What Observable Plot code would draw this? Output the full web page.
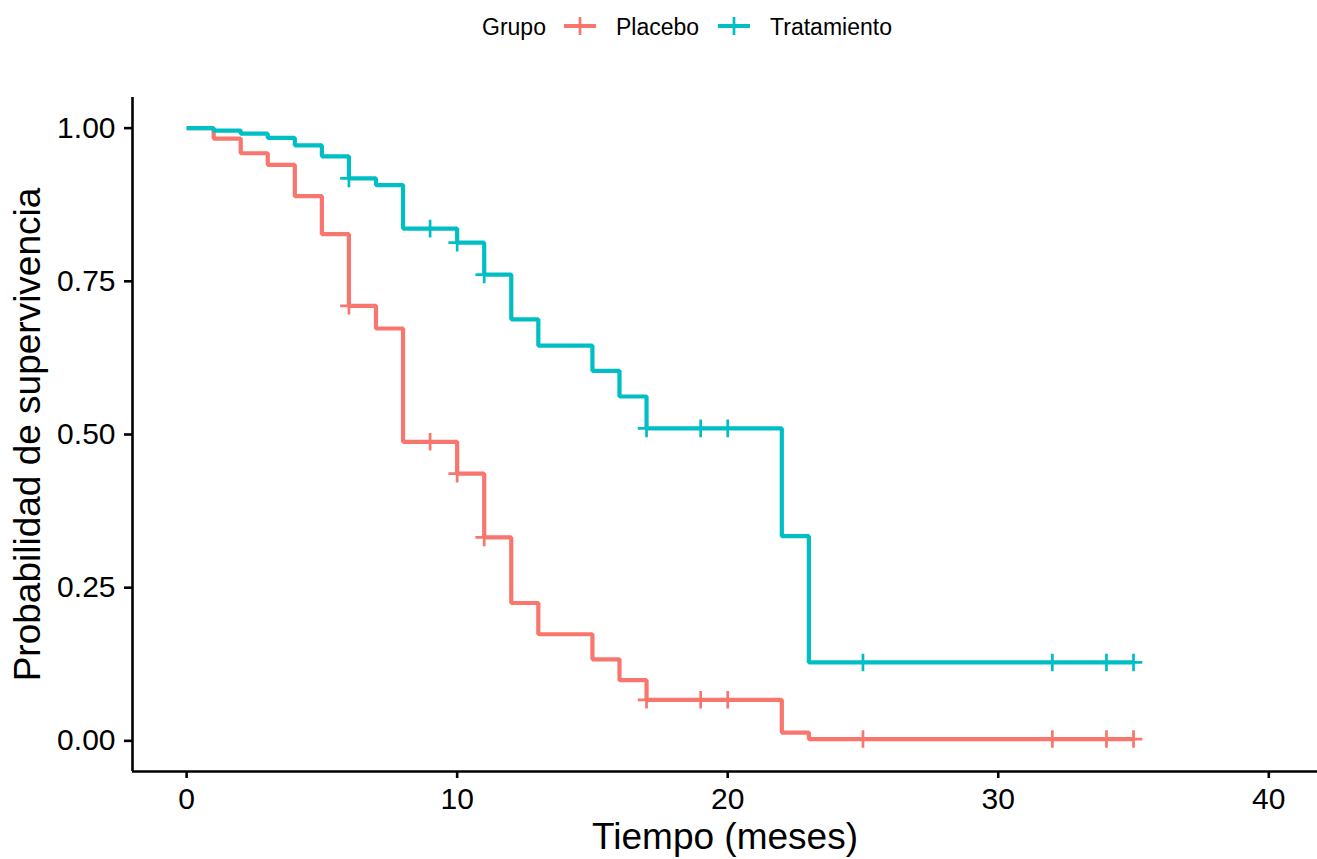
<!DOCTYPE html>
<html>
<head>
<meta charset="utf-8">
<script src="https://cdn.jsdelivr.net/npm/d3@7"></script>
<script src="https://cdn.jsdelivr.net/npm/@observablehq/plot@0.6"></script>
<style>
  body { margin: 0; background: #fff; font-family: "Liberation Sans", Arial, sans-serif; }
  #legend { height: 60px; box-sizing: border-box; padding-bottom: 6px; display: flex; align-items: center; padding-left: 482px; font-size: 23px; color: #000; }
  #legend .key { display: block; }
  #chart svg { display: block; }
</style>
</head>
<body>
<div id="legend"></div>
<div id="chart"></div>
<script>
// ---- data ----
const legendTitle = "Grupo";
const groups = ["Placebo", "Tratamiento"];
const colors = ["#F8766D", "#00BFC4"];

const placeboTimes = [0, 1, 2, 3, 4, 5, 6, 7, 8, 10, 11, 12, 13, 15, 16, 17, 22, 23, 35];
const placeboSurv  = [1.000, 0.983, 0.959, 0.940, 0.889, 0.827, 0.710, 0.673, 0.488, 0.436, 0.332, 0.225, 0.174, 0.133, 0.099, 0.067, 0.0136, 0.003, 0.003];
const placeboCensor = [6, 9, 10, 11, 17, 19, 20, 25, 32, 34, 35];

const tratTimes = [0, 1, 2, 3, 4, 5, 6, 7, 8, 10, 11, 12, 13, 15, 16, 17, 22, 23, 35];
const tratSurv  = [1.000, 0.996, 0.991, 0.984, 0.972, 0.954, 0.918, 0.907, 0.836, 0.813, 0.761, 0.688, 0.645, 0.604, 0.562, 0.510, 0.334, 0.128, 0.128];
const tratCensor = [6, 9, 10, 11, 17, 19, 20, 25, 32, 34, 35];

const xTicks = [0, 10, 20, 30, 40];
const yTicks = [0, 0.25, 0.5, 0.75, 1];
const xLabel = "Tiempo (meses)";
const yLabel = "Probabilidad de supervivencia";

// ---- build tables ----
const series = [
  {group: groups[0], times: placeboTimes, surv: placeboSurv, censor: placeboCensor},
  {group: groups[1], times: tratTimes, surv: tratSurv, censor: tratCensor}
];
const rows = [];
const censorRows = [];
for (const s of series) {
  s.times.forEach((t, i) => rows.push({group: s.group, time: t, surv: s.surv[i]}));
  for (const c of s.censor) {
    let v = s.surv[0];
    s.times.forEach((t, i) => { if (t <= c) v = s.surv[i]; });
    censorRows.push({group: s.group, time: c, surv: v});
  }
}

// ---- legend ----
const legend = document.getElementById("legend");
const title = document.createElement("span");
title.textContent = legendTitle;
legend.appendChild(title);
groups.forEach((g, i) => {
  const ns = "http://www.w3.org/2000/svg";
  const svg = document.createElementNS(ns, "svg");
  svg.setAttribute("width", 32); svg.setAttribute("height", 20);
  svg.setAttribute("class", "key");
  svg.style.marginLeft = i === 0 ? "18px" : "19px";
  svg.style.marginRight = "20px";
  const h = document.createElementNS(ns, "line");
  h.setAttribute("x1", 0); h.setAttribute("x2", 32); h.setAttribute("y1", 9); h.setAttribute("y2", 9);
  h.setAttribute("stroke", colors[i]); h.setAttribute("stroke-width", 4);
  const v = document.createElementNS(ns, "line");
  v.setAttribute("x1", 16); v.setAttribute("x2", 16); v.setAttribute("y1", 0); v.setAttribute("y2", 18);
  v.setAttribute("stroke", colors[i]); v.setAttribute("stroke-width", 2.7);
  svg.appendChild(h); svg.appendChild(v);
  legend.appendChild(svg);
  const lab = document.createElement("span");
  lab.textContent = g;
  legend.appendChild(lab);
});

// ---- chart ----
const chart = Plot.plot({
  width: 1317,
  height: 799,
  marginTop: 37,
  marginBottom: 88,
  marginLeft: 132,
  marginRight: 0,
  style: {fontFamily: "Liberation Sans, Arial, sans-serif", color: "#000", background: "#fff"},
  x: {domain: [-2, 41.8]},
  y: {domain: [-0.05, 1.05]},
  color: {domain: groups, range: colors},
  marks: [
    Plot.ruleX([-2], {stroke: "#000", strokeWidth: 2.6}),
    Plot.ruleY([-0.05], {stroke: "#000", strokeWidth: 2.6}),
    Plot.axisX({ticks: xTicks, tickSize: 7, tickPadding: 9, fontSize: 30, strokeWidth: 2.6, label: null}),
    Plot.axisX({ticks: [], tickSize: 0, label: xLabel, labelAnchor: "center", labelOffset: 77, labelArrow: "none", fontSize: 37}),
    Plot.axisY({ticks: yTicks, tickFormat: ".2f", tickSize: 8, tickPadding: 9, fontSize: 30, strokeWidth: 2.6, label: null}),
    Plot.axisY({ticks: [], tickSize: 0, label: yLabel, labelAnchor: "center", labelOffset: 119, labelArrow: "none", fontSize: 37}),
    Plot.line(rows, {x: "time", y: "surv", z: "group", stroke: "group", curve: "step-after", strokeWidth: 4.2, strokeLinejoin: "miter", strokeLinecap: "butt"}),
    Plot.dot(censorRows, {x: "time", y: "surv", stroke: "group", symbol: "plus", r: 5.7, strokeWidth: 2.7})
  ]
});
document.getElementById("chart").appendChild(chart);
</script>
</body>
</html>
